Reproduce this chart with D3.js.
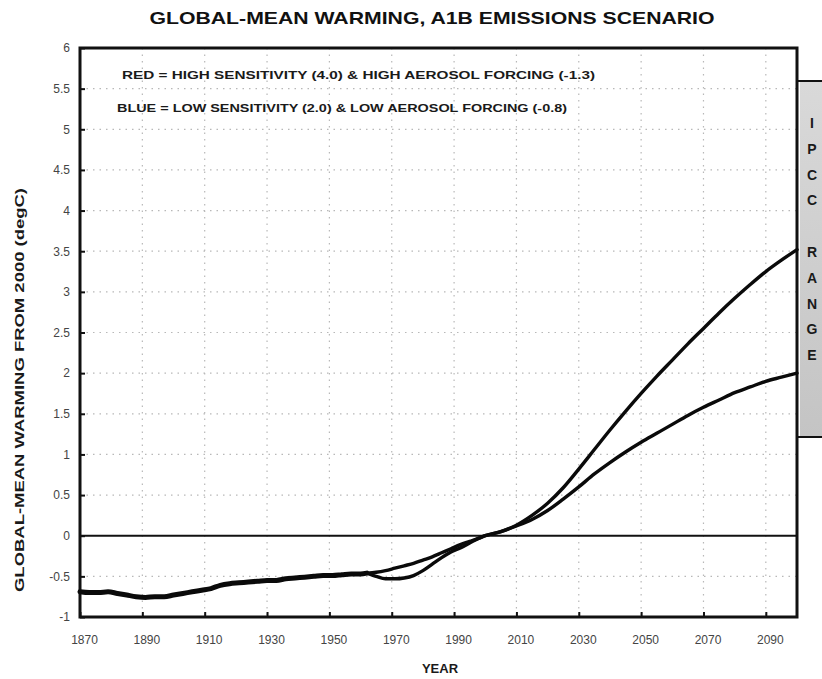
<!DOCTYPE html>
<html>
<head>
<meta charset="utf-8">
<script src="https://cdn.jsdelivr.net/npm/d3@7"></script>
<style>
  html, body { margin: 0; padding: 0; background: #fff; }
  svg { display: block; }
  text { font-family: "Liberation Sans Narrow", "Arial Narrow", "Liberation Sans", Arial, sans-serif; }
</style>
</head>
<body>
<svg id="chart" width="822" height="679"></svg>
<script>
// ---------------- DATA ----------------
const title = "GLOBAL-MEAN WARMING, A1B EMISSIONS SCENARIO";
const legendRed = "RED = HIGH SENSITIVITY (4.0) & HIGH AEROSOL FORCING (-1.3)";
const legendBlue = "BLUE = LOW SENSITIVITY (2.0) & LOW AEROSOL FORCING (-0.8)";
const yLabel = "GLOBAL-MEAN WARMING FROM 2000  (degC)";
const xLabel = "YEAR";
const sideLabel = ["I", "P", "C", "C", "", "R", "A", "N", "G", "E"];

const xTicks = [1870, 1890, 1910, 1930, 1950, 1970, 1990, 2010, 2030, 2050, 2070, 2090];
const yTicks = [-1, -0.5, 0, 0.5, 1, 1.5, 2, 2.5, 3, 3.5, 4, 4.5, 5, 5.5, 6];

// shared historical part (both runs nearly identical)
const histYears  = [1870, 1873, 1876, 1879, 1882, 1885, 1888, 1891, 1894, 1897, 1900, 1903, 1906, 1909, 1912, 1915, 1918, 1921, 1924, 1927, 1930, 1933, 1936, 1939, 1942, 1945, 1948, 1951, 1954, 1957, 1960, 1962];
const histValues = [-0.69, -0.70, -0.70, -0.69, -0.71, -0.73, -0.75, -0.76, -0.75, -0.75, -0.73, -0.71, -0.69, -0.67, -0.65, -0.61, -0.59, -0.58, -0.57, -0.56, -0.55, -0.55, -0.53, -0.52, -0.51, -0.50, -0.49, -0.49, -0.48, -0.47, -0.47, -0.46];

// RED: high sensitivity, high aerosol forcing (upper curve after 1962)
const redYears  = [1962, 1965, 1968, 1971, 1974, 1977, 1980, 1983, 1986, 1989, 1992, 1995, 1998, 2000, 2005, 2010, 2015, 2020, 2025, 2030, 2035, 2040, 2045, 2050, 2055, 2060, 2065, 2070, 2075, 2080, 2085, 2090, 2095, 2100];
const redValues = [-0.46, -0.45, -0.43, -0.40, -0.37, -0.34, -0.30, -0.26, -0.21, -0.16, -0.11, -0.07, -0.03, 0.00, 0.05, 0.13, 0.25, 0.40, 0.59, 0.82, 1.06, 1.30, 1.53, 1.75, 1.96, 2.16, 2.36, 2.55, 2.74, 2.92, 3.09, 3.25, 3.39, 3.52];

// BLUE: low sensitivity, low aerosol forcing (lower curve after 1962)
const blueYears  = [1962, 1965, 1968, 1971, 1974, 1977, 1980, 1983, 1986, 1989, 1992, 1995, 1998, 2000, 2005, 2010, 2015, 2020, 2025, 2030, 2035, 2040, 2045, 2050, 2055, 2060, 2065, 2070, 2075, 2080, 2085, 2090, 2095, 2100];
const blueValues = [-0.46, -0.50, -0.53, -0.53, -0.52, -0.49, -0.43, -0.35, -0.27, -0.20, -0.15, -0.09, -0.03, 0.00, 0.05, 0.12, 0.20, 0.31, 0.45, 0.60, 0.76, 0.90, 1.03, 1.15, 1.26, 1.37, 1.48, 1.58, 1.67, 1.76, 1.83, 1.90, 1.95, 2.00];

// ---------------- CHART ----------------
const svg = d3.select("#chart");
const L = 80, R = 797, T = 48, B = 617;

const x = d3.scaleLinear().domain([1870, 2100]).range([L, R]);
const y = d3.scaleLinear().domain([-1, 6]).range([B, T]);

// gridlines (dotted)
const grid = svg.append("g").attr("stroke", "#b8b8b8").attr("stroke-width", 1.2).attr("stroke-dasharray", "1.5,5");
grid.selectAll("line.v").data(xTicks.slice(1)).join("line")
  .attr("x1", d => x(d)).attr("x2", d => x(d)).attr("y1", T).attr("y2", B);
grid.selectAll("line.h").data(yTicks.filter(v => v !== -1 && v !== 6 && v !== 0)).join("line")
  .attr("x1", L).attr("x2", R).attr("y1", d => y(d)).attr("y2", d => y(d));

// IPCC range box
const boxTop = 81, boxBot = 437;
const grad = svg.append("defs").append("linearGradient").attr("id", "ipcc").attr("x1", 0).attr("x2", 0).attr("y1", 0).attr("y2", 1);
grad.append("stop").attr("offset", "0%").attr("stop-color", "#d9d9d9");
grad.append("stop").attr("offset", "100%").attr("stop-color", "#c4c4c4");
svg.append("rect").attr("x", R + 3).attr("y", boxTop).attr("width", 822 - R).attr("height", boxBot - boxTop)
  .attr("fill", "url(#ipcc)");
svg.append("line").attr("x1", R).attr("x2", 822).attr("y1", boxTop).attr("y2", boxTop).attr("stroke", "#111").attr("stroke-width", 2);
svg.append("line").attr("x1", R).attr("x2", 822).attr("y1", boxBot).attr("y2", boxBot).attr("stroke", "#111").attr("stroke-width", 2);
svg.append("g").selectAll("text").data(sideLabel).join("text")
  .attr("x", 812).attr("y", (d, i) => 128 + i * 25.8)
  .attr("text-anchor", "middle")
  .style("font-family", "'Liberation Sans', Arial, sans-serif")
  .attr("font-size", 14).attr("font-weight", "bold").attr("fill", "#1a1a1a")
  .text(d => d);

// zero line
svg.append("line").attr("x1", L).attr("x2", R).attr("y1", y(0)).attr("y2", y(0))
  .attr("stroke", "#111").attr("stroke-width", 2);

// axes with inward ticks
const yAxis = d3.axisLeft(y).tickValues(yTicks).tickSize(-5).tickPadding(8).tickFormat(d => String(d));
const xAxis = d3.axisBottom(x).tickValues(xTicks).tickSize(-5).tickPadding(18).tickFormat(d => String(d));

const gy = svg.append("g").attr("transform", `translate(${L},0)`).call(yAxis);
const gx = svg.append("g").attr("transform", `translate(0,${B})`).call(xAxis);
[gx, gy].forEach(g => {
  g.select(".domain").remove();
  g.selectAll(".tick line").attr("stroke", "#111").attr("stroke-width", 2);
  g.selectAll(".tick text").attr("font-size", 12).attr("fill", "#444")
    .style("font-family", "'Liberation Sans Narrow', 'Arial Narrow', 'Liberation Sans', sans-serif");
});
gy.selectAll(".tick text").attr("dx", "-2");
gx.selectAll(".tick text").attr("dx", "4");

// plot frame
svg.append("rect").attr("x", L).attr("y", T).attr("width", R - L).attr("height", B - T)
  .attr("fill", "none").attr("stroke", "#111").attr("stroke-width", 3);

// curves
const line = d3.line().x(d => x(d[0])).y(d => y(d[1])).curve(d3.curveMonotoneX);
const hist = d3.zip(histYears, histValues);
const red = d3.zip(redYears, redValues);
const blue = d3.zip(blueYears, blueValues);

const curves = svg.append("g").attr("fill", "none").attr("stroke", "#0a0a0a").attr("stroke-linejoin", "round").attr("stroke-linecap", "round");
curves.append("path").datum(hist).attr("d", line).attr("stroke-width", 5);
curves.append("path").datum(blue).attr("d", line).attr("stroke-width", 3.4);
curves.append("path").datum(red).attr("d", line).attr("stroke-width", 3.4);

// title
svg.append("text").attr("x", 432).attr("y", 24).attr("text-anchor", "middle")
  .attr("font-size", 17).attr("font-weight", "bold").attr("fill", "#111")
  .attr("textLength", 565).attr("lengthAdjust", "spacingAndGlyphs")
  .text(title);

// legend text
svg.append("text").attr("x", 122).attr("y", 79)
  .attr("font-size", 11).attr("font-weight", "bold").attr("fill", "#1a1a1a")
  .attr("textLength", 473).attr("lengthAdjust", "spacingAndGlyphs")
  .text(legendRed);
svg.append("text").attr("x", 117).attr("y", 112)
  .attr("font-size", 11).attr("font-weight", "bold").attr("fill", "#1a1a1a")
  .attr("textLength", 450).attr("lengthAdjust", "spacingAndGlyphs")
  .text(legendBlue);

// axis titles
svg.append("text").attr("transform", "translate(24,390) rotate(-90)").attr("text-anchor", "middle")
  .attr("font-size", 12).attr("font-weight", "bold").attr("fill", "#1a1a1a")
  .attr("textLength", 404).attr("lengthAdjust", "spacingAndGlyphs")
  .text(yLabel);
svg.append("text").attr("x", 440).attr("y", 673).attr("text-anchor", "middle")
  .attr("font-size", 13).attr("font-weight", "bold").attr("fill", "#1a1a1a")
  .text(xLabel);
</script>
</body>
</html>
